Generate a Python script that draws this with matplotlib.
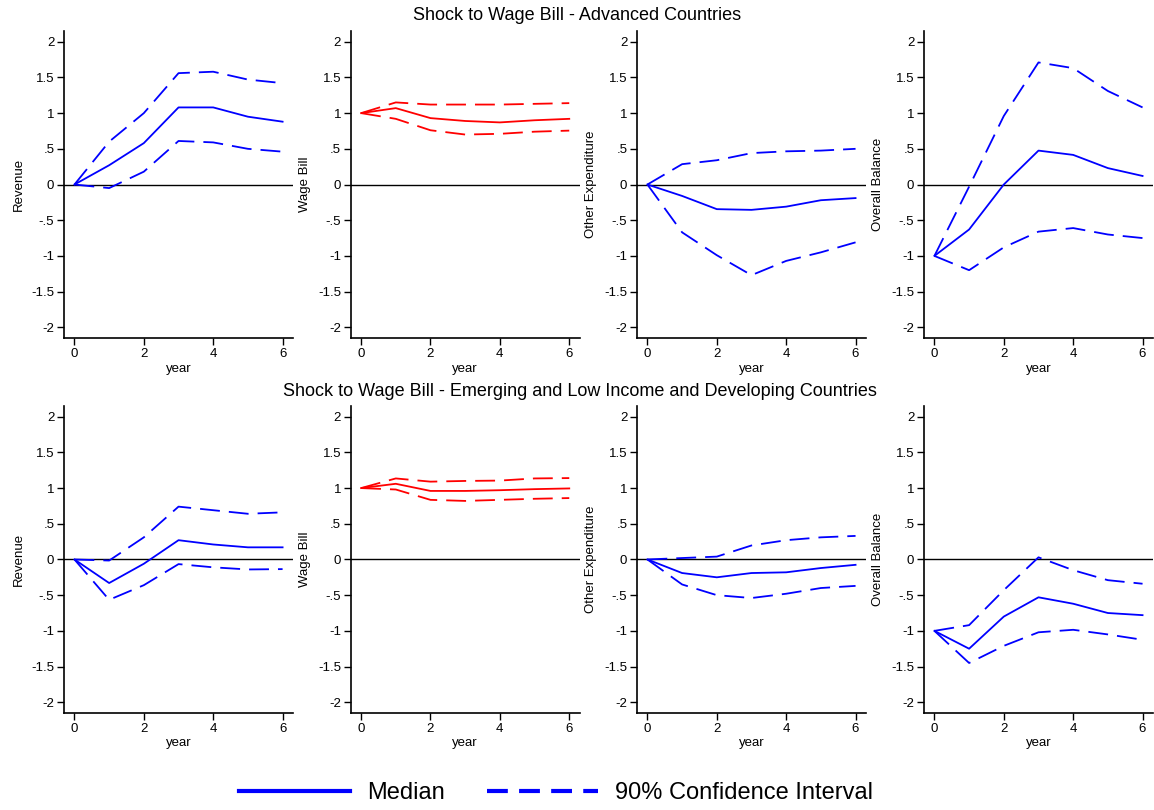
import numpy as np
import matplotlib
matplotlib.use("Agg")
import matplotlib.pyplot as plt
from matplotlib.lines import Line2D

plt.rcParams['font.family'] = ['Liberation Sans', 'DejaVu Sans']

# ----------------- Data (impulse responses, years 0..6) -----------------
years = [0, 1, 2, 3, 4, 5, 6]
ylabels = ['Revenue', 'Wage Bill', 'Other Expenditure', 'Overall Balance']
row_titles = ['Shock to Wage Bill - Advanced Countries',
              'Shock to Wage Bill - Emerging and Low Income and Developing Countries']

# Advanced countries
adv_rev_med = [0, 0.27, 0.58, 1.08, 1.08, 0.95, 0.88]
adv_rev_hi = [0, 0.60, 1.00, 1.56, 1.58, 1.47, 1.42]
adv_rev_lo = [0, -0.05, 0.18, 0.61, 0.59, 0.50, 0.46]

adv_wage_med = [1.0, 1.07, 0.93, 0.89, 0.87, 0.90, 0.92]
adv_wage_hi = [1.0, 1.15, 1.12, 1.12, 1.12, 1.13, 1.14]
adv_wage_lo = [1.0, 0.92, 0.76, 0.70, 0.71, 0.74, 0.755]

adv_oth_med = [0, -0.16, -0.345, -0.355, -0.31, -0.22, -0.19]
adv_oth_hi = [0, 0.285, 0.34, 0.44, 0.465, 0.475, 0.50]
adv_oth_lo = [0, -0.67, -0.99, -1.27, -1.07, -0.95, -0.81]

adv_bal_med = [-1.0, -0.63, 0.0, 0.475, 0.415, 0.23, 0.12]
adv_bal_hi = [-1.0, -0.03, 0.96, 1.71, 1.63, 1.31, 1.08]
adv_bal_lo = [-1.0, -1.20, -0.88, -0.66, -0.61, -0.70, -0.75]

# Emerging and low income developing countries
em_rev_med = [0, -0.33, -0.06, 0.27, 0.21, 0.17, 0.17]
em_rev_hi = [0, -0.015, 0.31, 0.74, 0.69, 0.64, 0.66]
em_rev_lo = [0, -0.565, -0.36, -0.065, -0.11, -0.14, -0.135]

em_wage_med = [1.0, 1.06, 0.96, 0.96, 0.97, 0.985, 0.995]
em_wage_hi = [1.0, 1.135, 1.09, 1.10, 1.105, 1.135, 1.14]
em_wage_lo = [1.0, 0.98, 0.835, 0.82, 0.835, 0.85, 0.86]

em_oth_med = [0, -0.19, -0.25, -0.19, -0.18, -0.12, -0.075]
em_oth_hi = [0, 0.02, 0.04, 0.196, 0.27, 0.31, 0.33]
em_oth_lo = [0, -0.35, -0.50, -0.54, -0.48, -0.40, -0.37]

em_bal_med = [-1.0, -1.25, -0.80, -0.53, -0.62, -0.75, -0.78]
em_bal_hi = [-1.0, -0.92, -0.43, 0.03, -0.15, -0.29, -0.34]
em_bal_lo = [-1.0, -1.45, -1.21, -1.02, -0.985, -1.05, -1.125]

rows = [
    [(adv_rev_med, adv_rev_hi, adv_rev_lo), (adv_wage_med, adv_wage_hi, adv_wage_lo),
     (adv_oth_med, adv_oth_hi, adv_oth_lo), (adv_bal_med, adv_bal_hi, adv_bal_lo)],
    [(em_rev_med, em_rev_hi, em_rev_lo), (em_wage_med, em_wage_hi, em_wage_lo),
     (em_oth_med, em_oth_hi, em_oth_lo), (em_bal_med, em_bal_hi, em_bal_lo)],
]

ytick_vals = [-2, -1.5, -1, -0.5, 0, 0.5, 1, 1.5, 2]
ytick_labels = ['-2', '-1.5', '-1', '-.5', '0', '.5', '1', '1.5', '2']
xtick_vals = [0, 2, 4, 6]

# ----------------- Figure -----------------
fig = plt.figure(figsize=(11.54, 8.10), dpi=100)

lefts = [0.0555, 0.3039, 0.552, 0.8007]
width = 0.1984
bottoms = [0.5827, 0.1198]
height = 0.379
dash = (0, (11, 5))

for r, row in enumerate(rows):
    for c, (med, hi, lo) in enumerate(row):
        ax = fig.add_axes([lefts[c], bottoms[r], width, height])
        color = 'red' if c == 1 else 'blue'
        ax.axhline(0, color='black', linewidth=1.0, zorder=1)
        ax.plot(years, med, color=color, linewidth=1.3, zorder=3)
        ax.plot(years, hi, color=color, linewidth=1.3, linestyle=dash, zorder=3)
        ax.plot(years, lo, color=color, linewidth=1.3, linestyle=dash, zorder=3)
        ax.set_xlim(-0.3, 6.3)
        ax.set_ylim(-2.15, 2.15)
        ax.set_yticks(ytick_vals)
        ax.set_yticklabels(ytick_labels)
        ax.set_xticks(xtick_vals)
        ax.tick_params(labelsize=9.5, length=5, width=1, pad=2, colors='black')
        ax.set_ylabel(ylabels[c], fontsize=9.5, labelpad=5)
        ax.set_xlabel('year', fontsize=9.5, labelpad=2)
        ax.spines['top'].set_visible(False)
        ax.spines['right'].set_visible(False)
        ax.spines['left'].set_linewidth(1.2)
        ax.spines['bottom'].set_linewidth(1.2)

fig.text(577 / 1154, 1 - 16 / 810, row_titles[0], ha='center', va='center', fontsize=13)
fig.text(580 / 1154, 1 - 391 / 810, row_titles[1], ha='center', va='center', fontsize=13)

handles = [Line2D([], [], color='blue', linewidth=3),
           Line2D([], [], color='blue', linewidth=3, linestyle=(0, (5, 2.7)))]
fig.legend(handles, ['Median', '90% Confidence Interval'], loc='center',
           bbox_to_anchor=(556 / 1154, 1 - 793 / 810), ncol=2, frameon=False,
           fontsize=17, handlelength=4.7, handletextpad=0.7, columnspacing=1.8)

fig.savefig('out.png', dpi=100)
